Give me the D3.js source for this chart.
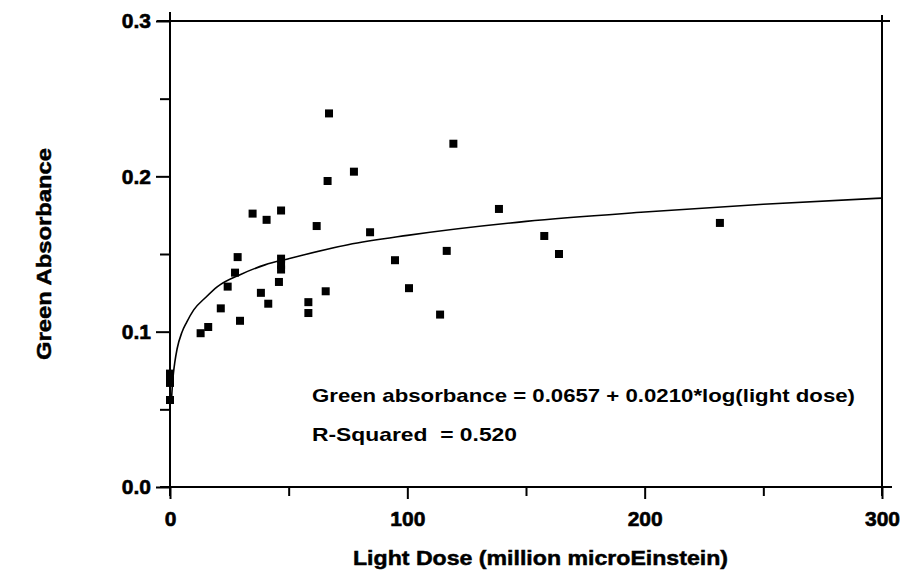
<!DOCTYPE html>
<html>
<head>
<meta charset="utf-8">
<script src="https://cdn.jsdelivr.net/npm/d3@7"></script>
<style>
  html, body { margin: 0; padding: 0; background: #fff; }
  svg { display: block; }
  text { font-family: "Liberation Sans", Arial, sans-serif; font-weight: bold; fill: #000; white-space: pre; }
</style>
</head>
<body>
<svg id="chart" width="907" height="581"></svg>
<script>
// ---- data ----
const doseValues = [0, 0, 0, 0, 12.9, 16.1, 21.4, 24.3, 27.4, 28.5, 29.5, 34.8, 38.3, 40.7, 41.4,
  46.8, 46.8, 46.8, 46.8, 45.9, 58.3, 58.3, 61.8, 65.6, 66.4, 67.0, 77.5, 84.3, 94.8, 100.7,
  113.8, 116.6, 119.4, 138.6, 157.7, 163.9, 231.7];
const absorbanceValues = [0.073, 0.070, 0.067, 0.056, 0.099, 0.103, 0.115, 0.129, 0.138, 0.148, 0.107, 0.176, 0.125, 0.172, 0.118,
  0.178, 0.147, 0.143, 0.140, 0.132, 0.119, 0.112, 0.168, 0.126, 0.197, 0.2405, 0.203, 0.164, 0.146, 0.128,
  0.111, 0.152, 0.221, 0.179, 0.1616, 0.150, 0.170];
// fitted curve
const curveDose = [0.7, 1, 1.5, 2, 3, 5, 7, 10, 15, 20, 30, 40, 50, 75, 100, 150, 200, 250, 300];
const curveAbs  = [0.058, 0.0657, 0.074, 0.080, 0.089, 0.0995, 0.106, 0.114, 0.122, 0.129, 0.137, 0.143, 0.147, 0.156, 0.162, 0.171, 0.177, 0.182, 0.186];
const xTickValues = [0, 100, 200, 300];
const xTickLabels = ["0", "100", "200", "300"];
const yTickValues = [0.0, 0.1, 0.2, 0.3];
const yTickLabels = ["0.0", "0.1", "0.2", "0.3"];
const xMinorTicks = [50, 150, 250];
const yMinorTicks = [0.05, 0.15, 0.25];
const xTitle = "Light Dose (million microEinstein)";
const yTitle = "Green Absorbance";
const equationText = "Green absorbance = 0.0657 + 0.0210*log(light dose)";
const rSquaredText = "R-Squared  = 0.520";

// ---- layout ----
const svg = d3.select("#chart");
const pLeft = 170, pRight = 882, pTop = 21, pBottom = 487;
const x = d3.scaleLinear().domain([0, 300]).range([pLeft, pRight]);
const y = d3.scaleLinear().domain([0, 0.3]).range([pBottom, pTop]);

// frame
const frame = svg.append("g").attr("stroke", "#000").attr("stroke-width", 2).attr("fill", "none");
frame.append("line").attr("x1", pLeft - 13).attr("x2", pRight + 8).attr("y1", pTop).attr("y2", pTop);
frame.append("line").attr("x1", pLeft - 10).attr("x2", pRight + 10).attr("y1", pBottom).attr("y2", pBottom);
frame.append("line").attr("x1", pLeft).attr("x2", pLeft).attr("y1", pTop - 9).attr("y2", pBottom + 9);
frame.append("line").attr("x1", pRight).attr("x2", pRight).attr("y1", pTop - 6).attr("y2", pBottom + 9);

const fontCss = "'Liberation Sans', Arial, sans-serif";

// x axis
const xAxis = d3.axisBottom(x).tickValues(xTickValues).tickFormat((d, i) => xTickLabels[i]).tickSize(12).tickPadding(12);
const gx = svg.append("g").attr("transform", `translate(0,${pBottom})`).call(xAxis);
gx.select(".domain").remove();
gx.selectAll(".tick line").attr("stroke", "#000").attr("stroke-width", 2);
gx.selectAll(".tick text").style("font-size", "21px").style("font-family", fontCss).style("font-weight", "bold")
  .attr("fill", "#000").attr("stroke", "#000").attr("stroke-width", 0.6);
const xMinor = d3.axisBottom(x).tickValues(xMinorTicks).tickFormat("").tickSize(9);
const gxm = svg.append("g").attr("transform", `translate(0,${pBottom})`).call(xMinor);
gxm.select(".domain").remove();
gxm.selectAll(".tick line").attr("stroke", "#000").attr("stroke-width", 2);

// y axis
const yAxis = d3.axisLeft(y).tickValues(yTickValues).tickFormat((d, i) => yTickLabels[i]).tickSize(14).tickPadding(5);
const gy = svg.append("g").attr("transform", `translate(${pLeft},0)`).call(yAxis);
gy.select(".domain").remove();
gy.selectAll(".tick line").attr("stroke", "#000").attr("stroke-width", 2);
gy.selectAll(".tick text").style("font-size", "21px").style("font-family", fontCss).style("font-weight", "bold")
  .attr("fill", "#000").attr("stroke", "#000").attr("stroke-width", 0.6);
const yMinor = d3.axisLeft(y).tickValues(yMinorTicks).tickFormat("").tickSize(10);
const gym = svg.append("g").attr("transform", `translate(${pLeft},0)`).call(yMinor);
gym.select(".domain").remove();
gym.selectAll(".tick line").attr("stroke", "#000").attr("stroke-width", 2);

// fitted curve
const curvePts = curveDose.map((d, i) => [d, curveAbs[i]]);
svg.append("path").datum(curvePts)
  .attr("fill", "none").attr("stroke", "#000").attr("stroke-width", 1.6)
  .attr("d", d3.line().x(d => x(d[0])).y(d => y(d[1])).curve(d3.curveMonotoneX));

// points
const pts = doseValues.map((d, i) => [d, absorbanceValues[i]]);
const s = 8;
svg.append("g").selectAll("rect").data(pts).join("rect")
  .attr("x", d => x(d[0]) - s / 2).attr("y", d => y(d[1]) - s / 2)
  .attr("width", s).attr("height", s).attr("fill", "#000");

// titles
svg.append("text").attr("x", (353 + 728) / 2).attr("y", 565).attr("text-anchor", "middle")
  .attr("stroke", "#000").attr("stroke-width", 0.5)
  .style("font-size", "21px").attr("textLength", 375).attr("lengthAdjust", "spacingAndGlyphs").text(xTitle);
svg.append("text").attr("transform", "translate(51,254) rotate(-90)").attr("text-anchor", "middle")
  .attr("stroke", "#000").attr("stroke-width", 0.5)
  .style("font-size", "21px").attr("textLength", 212).attr("lengthAdjust", "spacingAndGlyphs").text(yTitle);

// annotation
svg.append("text").attr("x", 312).attr("y", 402)
  .style("font-size", "19px").attr("textLength", 543).attr("lengthAdjust", "spacingAndGlyphs").text(equationText);
svg.append("text").attr("x", 312).attr("y", 441).attr("xml:space", "preserve")
  .style("font-size", "19px").attr("textLength", 205).attr("lengthAdjust", "spacingAndGlyphs").text(rSquaredText);
</script>
</body>
</html>
